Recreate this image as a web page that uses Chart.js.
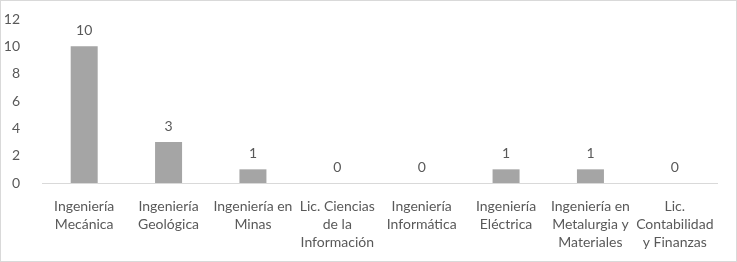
<!DOCTYPE html>
<html><head><meta charset="utf-8">
<script src="https://cdn.jsdelivr.net/npm/chart.js@4/dist/chart.umd.min.js"></script>
<style>
html,body{margin:0;padding:0;background:#fff;}
#wrap{position:relative;width:737px;height:262px;box-sizing:border-box;border:1px solid #d9d9d9;}
</style></head><body>
<div id="wrap"><canvas id="c"></canvas></div>
<script>
const categories = [
  ["Ingeniería","Mecánica"],
  ["Ingeniería","Geológica"],
  ["Ingeniería en","Minas"],
  ["Lic. Ciencias","de la","Información"],
  ["Ingeniería","Informática"],
  ["Ingeniería","Eléctrica"],
  ["Ingeniería en","Metalurgia y","Materiales"],
  ["Lic.","Contabilidad","y Finanzas"]
];
const values = [10, 3, 1, 0, 0, 1, 1, 0];
const yMin = 0, yMax = 12, yStep = 2;

const FONT = "Lato, 'Liberation Sans', sans-serif";
const TXT = "#595959";

const valueLabels = {
  id: 'valueLabels',
  afterDatasetsDraw(chart) {
    const ctx = chart.ctx;
    const meta = chart.getDatasetMeta(0);
    ctx.save();
    ctx.fillStyle = TXT;
    ctx.font = "14px " + FONT;
    ctx.textAlign = 'center';
    ctx.textBaseline = 'middle';
    meta.data.forEach((el, i) => {
      ctx.fillText(String(chart.data.datasets[0].data[i]), el.x, el.y - 16);
    });
    ctx.restore();
  }
};

new Chart(document.getElementById('c'), {
  type: 'bar',
  data: {
    labels: categories,
    datasets: [{
      data: values,
      backgroundColor: '#a5a5a5',
      borderWidth: 0,
      barPercentage: 0.32,
      categoryPercentage: 1
    }]
  },
  options: {
    responsive: true,
    maintainAspectRatio: false,
    animation: false,
    devicePixelRatio: 1,
    layout: { padding: { top: 18, right: 19, left: 0, bottom: 0 } },
    plugins: { legend: { display: false }, tooltip: { enabled: false } },
    scales: {
      x: {
        grid: { display: false },
        border: { display: true, color: '#d9d9d9', width: 1 },
        ticks: { color: TXT, font: { family: FONT, size: 14, lineHeight: 1.29 }, maxRotation: 0, autoSkip: false, padding: 6 },
        afterFit(s) { s.height = 78; }
      },
      y: {
        min: yMin, max: yMax,
        grid: { display: false },
        border: { display: false },
        ticks: { stepSize: yStep, color: TXT, font: { family: FONT, size: 14 }, padding: 14 },
        afterFit(s) { s.width = 41; s.paddingTop = 0; s.paddingBottom = 0; }
      }
    }
  },
  plugins: [valueLabels]
});
</script>
</body></html>
